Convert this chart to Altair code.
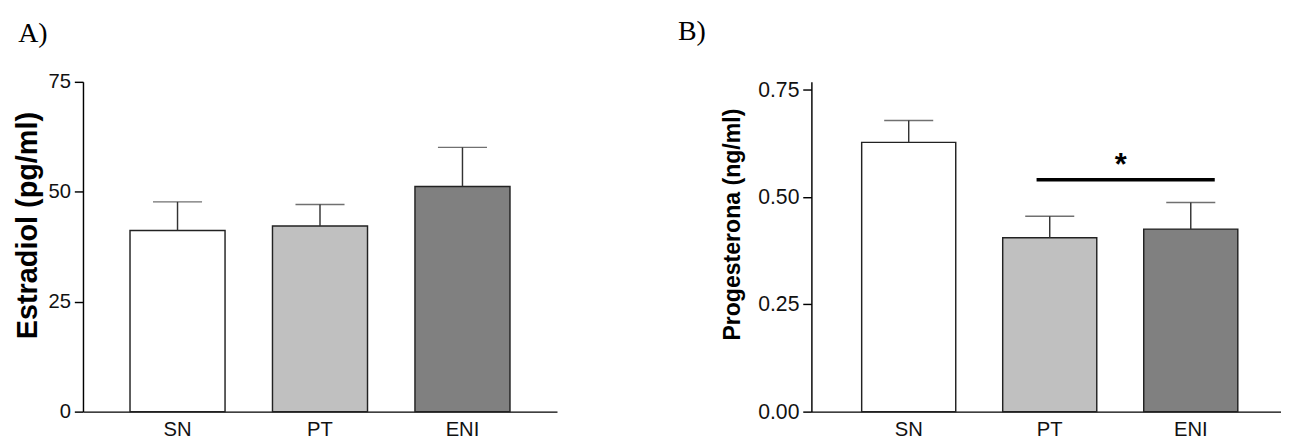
import altair as alt
import pandas as pd

groups = ["SN", "PT", "ENI"]
fills = ["#ffffff", "#c0c0c0", "#808080"]

estradiol_mean = [41.2, 42.2, 51.2]
estradiol_sem = [6.5, 4.9, 8.9]

prog_mean = [0.627, 0.405, 0.425]
prog_sem = [0.051, 0.050, 0.062]

sig_pair = ["PT", "ENI"]
sig_level = [0.540]
star_level = [0.574]

AXIS_FONT = "Liberation Sans"
PLOT_H = 343


def panel(means, sems, ytitle, ticks, fmt, ymax, width, label, label_size,
          title_size, title_dx, title_offset, title_y, title_pad, align):
    df = pd.DataFrame({
        "group": groups,
        "mean": means,
        "upper": [m + s for m, s in zip(means, sems)],
    })
    xscale = alt.Scale(domain=groups, paddingInner=0.333, paddingOuter=0.33, align=align)
    x = alt.X("group:N", scale=xscale, sort=groups,
              axis=alt.Axis(title=None, labelAngle=0, ticks=False, domainColor="#000",
                            domainWidth=1.5, labelFont=AXIS_FONT, labelFontSize=21,
                            labelColor="#111", labelPadding=8))
    yaxis = alt.Axis(title=ytitle, values=ticks, format=fmt, grid=False,
                     tickSize=9, tickWidth=1.5, tickColor="#000",
                     domainColor="#000", domainWidth=1.5,
                     labelFont=AXIS_FONT, labelFontSize=label_size, labelColor="#111",
                     labelPadding=4,
                     titleFont=AXIS_FONT, titleFontSize=title_size, titleFontWeight="bold",
                     titleColor="#000", titlePadding=title_pad, titleY=title_y)
    y = alt.Y("mean:Q", scale=alt.Scale(domain=[0, ymax], nice=False, zero=True), axis=yaxis)

    base = alt.Chart(df)
    bars = base.mark_bar(stroke="#222", strokeWidth=1.5).encode(
        x=x, y=y,
        color=alt.Color("group:N", scale=alt.Scale(domain=groups, range=fills), legend=None),
    )
    err = base.mark_rule(color="#333", strokeWidth=1.5).encode(
        x=alt.X("group:N", sort=groups), y="mean:Q", y2="upper:Q")
    cap = base.mark_tick(color="#333", thickness=1.5, size=51).encode(
        x=alt.X("group:N", sort=groups), y="upper:Q")
    layers = [bars, err, cap]
    return layers, dict(width=width, height=PLOT_H,
                        title=alt.TitleParams(label, anchor="start", font="Liberation Serif",
                                              fontSize=29, fontWeight="normal", color="#000",
                                              offset=title_offset, dx=title_dx))


layersA, propsA = panel(estradiol_mean, estradiol_sem, "Estradiol (pg/ml)", [0, 25, 50, 75],
                        "d", 75, 493, "A)", 21, 30, 5, 24.5, 149, 6, 0.5)
chartA = alt.layer(*layersA).properties(**propsA)

layersB, propsB = panel(prog_mean, prog_sem, "Progesterona (ng/ml)", [0, 0.25, 0.5, 0.75],
                        ".2f", 0.75 * 343 / 335, 488, "B)", 22, 24, -45, 35, 148, 14, 0.54)

sig_df = pd.DataFrame({"a": [sig_pair[0]], "b": [sig_pair[1]], "y": sig_level})
sig_line = alt.Chart(sig_df).mark_rule(color="#000", strokeWidth=3.7).encode(
    x=alt.X("a:N", bandPosition=0.36),
    x2=alt.X2("b:N", bandPosition=0.755),
    y="y:Q",
)
star_df = pd.DataFrame({"b": [sig_pair[1]], "y": star_level, "t": ["*"]})
star = alt.Chart(star_df).mark_text(font=AXIS_FONT, fontSize=32, fontWeight="bold",
                                    color="#000", baseline="middle", align="center",
                                    dx=-24).encode(
    x=alt.X("b:N", bandPosition=0),
    y="y:Q",
    text="t:N",
)
chartB = alt.layer(*layersB, sig_line, star).properties(**propsB)

chart = alt.hconcat(chartA, chartB, spacing=125.6).properties(
    padding={"left": 5, "top": 0, "right": 0, "bottom": 0}
).configure_view(stroke=None)

chart.save("out.html", embed_options={"renderer": "svg", "actions": False})
